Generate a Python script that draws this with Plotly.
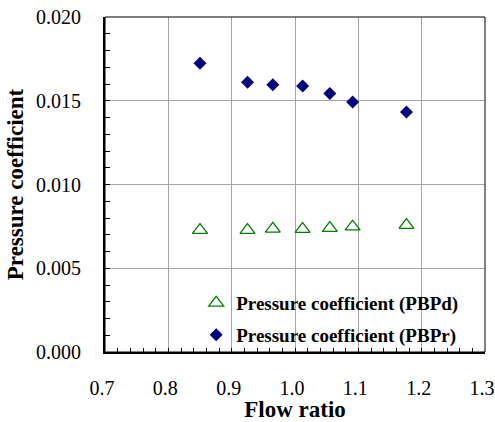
import plotly.graph_objects as go

flow_ratio = [0.850, 0.925, 0.965, 1.012, 1.055, 1.091, 1.176]
pbpd = [0.00728, 0.00728, 0.00735, 0.00734, 0.00740, 0.00748, 0.00758]
pbpr = [0.01724, 0.01610, 0.01596, 0.01588, 0.01544, 0.01493, 0.01433]

x_ticks = [0.7, 0.8, 0.9, 1.0, 1.1, 1.2, 1.3]
y_ticks = [0.000, 0.005, 0.010, 0.015, 0.020]

FONT = "Liberation Serif"

fig = go.Figure()
fig.add_trace(go.Scatter(
    x=flow_ratio, y=pbpd, mode="markers", name="Pressure coefficient (PBPd)",
    marker=dict(symbol="triangle-up-open", size=13, color="#008000",
                line=dict(color="#008000", width=1.3)),
    legend="legend",
))
fig.add_trace(go.Scatter(
    x=flow_ratio, y=pbpr, mode="markers", name="Pressure coefficient (PBPr)",
    marker=dict(symbol="diamond", size=10, color="#000080",
                line=dict(width=0)),
    legend="legend2",
))

legend_common = dict(
    bgcolor="rgba(0,0,0,0)", borderwidth=0, xanchor="left", yanchor="middle",
    font=dict(family=FONT, size=19, color="black", weight="bold"),
    itemwidth=30,
)

fig.update_layout(
    width=495, height=422,
    margin=dict(l=105, r=10, t=17, b=70, autoexpand=False),
    paper_bgcolor="white", plot_bgcolor="white",
    font=dict(family=FONT, color="black"),
    showlegend=True,
    legend=dict(x=0.24, y=0.146, **legend_common),
    legend2=dict(x=0.24, y=0.051, **legend_common),
    xaxis=dict(
        range=[0.7, 1.3], tickvals=x_ticks, ticktext=[f"{v:.1f}" for v in x_ticks],
        showgrid=True, gridcolor="#a6a6a6", gridwidth=1,
        showline=True, linecolor="black", linewidth=2,
        ticks="inside", ticklen=4, tickcolor="black",
        minor=dict(dtick=0.02, ticks="inside", ticklen=4, tickcolor="black", showgrid=False),
        tickfont=dict(family=FONT, size=20, color="black"),
        ticklabelstandoff=17, ticklabeloverflow="allow", ticklabelshift=-3,
        zeroline=False, automargin=False,
        title=dict(text="Flow ratio", font=dict(family=FONT, size=23, color="black", weight="bold"), standoff=2),
    ),
    yaxis=dict(
        range=[0, 0.020], tickvals=y_ticks, ticktext=[f"{v:.3f}" for v in y_ticks],
        showgrid=True, gridcolor="#a6a6a6", gridwidth=1,
        showline=True, linecolor="black", linewidth=2,
        ticks="inside", ticklen=5, tickcolor="black",
        minor=dict(dtick=0.001, ticks="inside", ticklen=5, tickcolor="black", showgrid=False),
        tickfont=dict(family=FONT, size=20, color="black"),
        ticklabelstandoff=18, ticklabeloverflow="allow",
        zeroline=False, automargin=False,
        title=dict(text="Pressure coefficient", font=dict(family=FONT, size=23, color="black", weight="bold"), standoff=6),
    ),
    shapes=[
        # white legend background hiding the gridlines behind the legend
        dict(type="rect", xref="paper", yref="paper", x0=0.18, y0=0.003, x1=0.997, y1=0.2,
             fillcolor="white", line=dict(width=0), layer="between"),
        dict(type="rect", xref="paper", yref="paper", x0=0, y0=0, x1=1, y1=1,
             line=dict(color="black", width=1), layer="above"),
    ],
)

fig.write_html("out.html")
